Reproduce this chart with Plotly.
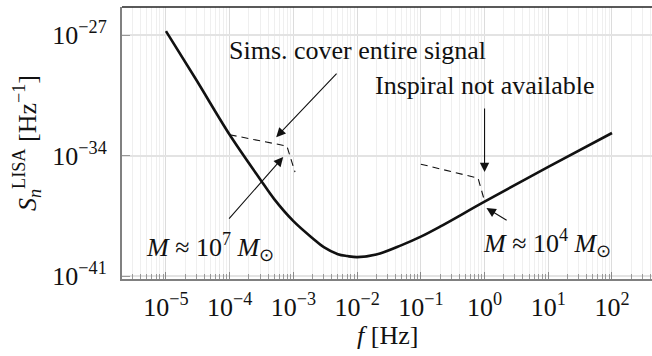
import numpy as np
import plotly.graph_objects as go

# LISA sensitivity curve
freq = [1e-5, 3e-5, 1e-4, 3e-4, 5e-4, 1e-3, 2e-3, 3e-3, 5e-3, 7e-3, 1e-2, 2e-2, 5e-2,
        1e-1, 2e-1, 1.0, 10.0, 100.0]
sn = [1.70e-27, 2.45e-30, 1.62e-33, 4.27e-36, 2.95e-37, 1.55e-38, 1.58e-39, 4.79e-40,
      1.86e-40, 1.45e-40, 1.26e-40, 1.78e-40, 6.31e-40, 1.95e-39, 7.41e-39, 2.09e-37,
      2.19e-35, 2.04e-33]

# dashed signal tracks
sig1_f = [1e-4, 7.9e-4, 1.06e-3]
sig1_s = [1.62e-33, 3.55e-34, 1.10e-35]
sig2_f = [0.1, 0.79, 1.0]
sig2_s = [3.16e-35, 4.90e-36, 2.3e-37]

xtick_vals = [1e-5, 1e-4, 1e-3, 1e-2, 1e-1, 1e0, 1e1, 1e2]
xtick_text = ["10<sup>−5</sup>", "10<sup>−4</sup>", "10<sup>−3</sup>", "10<sup>−2</sup>",
              "10<sup>−1</sup>", "10<sup>0</sup>", "10<sup>1</sup>", "10<sup>2</sup>"]
ytick_vals = [1e-27, 1e-34, 1e-41]
ytick_text = ["10<sup>−27</sup>", "10<sup>−34</sup>", "10<sup>−41</sup>"]

FONT = "Liberation Serif, serif"
FS = 26

minor_x = [k * 10.0**n for n in range(-6, 3) for k in range(2, 10)]

fig = go.Figure()
fig.add_trace(go.Scatter(x=freq, y=sn, mode="lines", line=dict(color="#111", width=2.6, shape="spline", smoothing=1.0)))
fig.add_trace(go.Scatter(x=sig1_f, y=sig1_s, mode="lines", line=dict(color="#111", width=1.1, dash="7px,5px")))
fig.add_trace(go.Scatter(x=sig2_f, y=sig2_s, mode="lines", line=dict(color="#111", width=1.1, dash="7px,5px")))

fig.update_layout(
    width=652, height=356, showlegend=False,
    margin=dict(l=122, r=0, t=7, b=77),
    plot_bgcolor="white", paper_bgcolor="white",
    font=dict(family=FONT, size=FS, color="#111"),
)
fig.update_xaxes(
    type="log", range=[-5.69, 2.628],
    tickvals=xtick_vals, ticktext=xtick_text, ticks="inside", ticklen=7, tickcolor="#888",
    showgrid=True, gridcolor="#dcdcdc", gridwidth=1,
    showline=True, linecolor="#808080", linewidth=2,
    minor=dict(tickvals=minor_x, ticks="inside", ticklen=5, tickcolor="#999",
               showgrid=True, gridcolor="#efefef", gridwidth=1),
    tickfont=dict(family=FONT, size=FS), ticklabelstandoff=4, zeroline=False,
)
fig.update_yaxes(
    type="log", range=[-41.17, -25.37],
    tickvals=ytick_vals, ticktext=ytick_text, ticks="inside", ticklen=8, tickcolor="#999",
    showgrid=True, gridcolor="#e3e3e3", gridwidth=1.5,
    showline=True, linecolor="#808080", linewidth=2,
    tickfont=dict(family=FONT, size=FS), ticklabelstandoff=8, zeroline=False,
)

# top frame line
fig.add_shape(type="line", xref="paper", yref="paper", x0=0, x1=1, y0=1, y1=1,
              line=dict(color="#222", width=1.6))

arrow_kw = dict(showarrow=True, arrowhead=2, arrowsize=1.7, arrowwidth=1.1, arrowcolor="#111",
                axref="x", ayref="y", xref="x", yref="y", text="", standoff=0, startstandoff=0)
# arrows: (tip x, tip y, tail x, tail y) in log10 units
arrows = [(-3.27, -32.93, -2.30, -29.15),
          (0.0, -34.96, 0.0, -31.18),
          (-3.16, -34.09, -4.03, -37.75),
          (0.03, -37.05, 0.37, -37.81)]
for x, y, ax, ay in arrows:
    fig.add_annotation(x=x, y=y, ax=ax, ay=ay, **arrow_kw)

labels = [(-2.0, -27.87, "Sims. cover entire signal"),
          (0.0, -29.91, "Inspiral not available"),
          (-4.31, -39.32, "<i>M</i> ≈ 10<sup>7</sup> <i>M</i><sub>⊙</sub>"),
          (0.98, -39.09, "<i>M</i> ≈ 10<sup>4</sup> <i>M</i><sub>⊙</sub>")]
for x, y, t in labels:
    fig.add_annotation(x=x, y=y, text=t, showarrow=False, xref="x", yref="y",
                       font=dict(family=FONT, size=FS, color="#111"))

# axis titles
fig.add_annotation(xref="paper", yref="paper", x=0.5, y=0, yshift=-56, text="<i>f</i> [Hz]",
                   showarrow=False, yanchor="middle", font=dict(family=FONT, size=FS))
fig.add_annotation(xref="paper", yref="paper", x=0, y=0.5, xshift=-95, textangle=-90,
                   text="<i>S</i><sub><i>n</i></sub><sup>LISA</sup> [Hz<sup>−1</sup>]",
                   showarrow=False, xanchor="center", font=dict(family=FONT, size=FS))

fig.write_html("out.html")
